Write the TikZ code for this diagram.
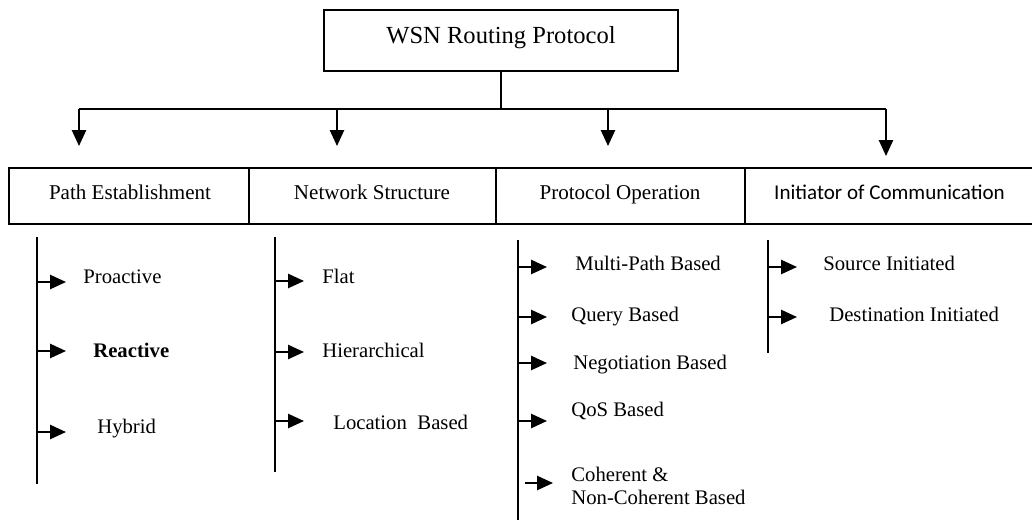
\documentclass[tikz,border=0pt]{standalone}
\usepackage{fontspec}
\setmainfont{Liberation Serif}
\newfontfamily\calib{Carlito}
\usetikzlibrary{arrows.meta}
\tikzset{
  line/.style={line width=1.1pt, line cap=butt},
  down/.style={line width=1.1pt, -{Triangle[length=9pt,width=8pt]}},
  side/.style={line width=1.1pt, -{Triangle[length=9pt,width=8pt]}},
  catbox/.style={draw, line width=1.1pt, minimum height=56*0.57pt, inner sep=0pt},
  lbl/.style={anchor=base, inner sep=0pt, font=\fontsize{12}{14}\selectfont},
  item/.style={anchor=base west, inner sep=0pt, font=\fontsize{11.8}{13.1}\selectfont, align=left},
}
\begin{document}
\begin{tikzpicture}[x=0.57pt, y=-0.57pt]
\useasboundingbox (0,0) rectangle (1032,519);
% root
\node[draw, line width=1.1pt, minimum width=354*0.57pt, minimum height=61*0.57pt, inner sep=0pt] (root) at (501,40.5) {};
\node[anchor=base, inner sep=0pt, font=\fontsize{14}{16}\selectfont] (rootlabel) at (501,43) {WSN Routing Protocol};
% bus
\coordinate (bus) at (root.south |- 0,109);
\coordinate (b1) at (79,109);
\coordinate (b2) at (337,109);
\coordinate (b3) at (608,109);
\coordinate (b4) at (886,109);
\coordinate (t1) at (79,146);
\coordinate (t2) at (337,146);
\coordinate (t3) at (608,146);
\coordinate (t4) at (886,156);
\draw[line] (root.south) -- (bus);
\draw[line] (b1) -- (b4);
\draw[down] (b1) -- (t1);
\draw[down] (b2) -- (t2);
\draw[down] (b3) -- (t3);
\draw[down] (b4) -- (t4);
% category boxes
\node[catbox, minimum width=240*0.57pt] (c1) at (129,196) {};
\node[catbox, minimum width=247*0.57pt] (c2) at (372.5,196) {};
\node[catbox, minimum width=249*0.57pt] (c3) at (620.5,196) {};
\node[catbox, minimum width=289*0.57pt] (c4) at (889.5,196) {};
\node[lbl] (c1l) at (130,199) {Path Establishment};
\node[lbl] (c2l) at (372,199) {Network Structure};
\node[lbl] (c3l) at (620,199) {Protocol Operation};
\node[lbl, font=\calib\fontsize{12}{14}\selectfont] (c4l) at (889.5,199) {Initiator of Communication};
% column lines
\coordinate (v1a) at (37,237); \coordinate (v1b) at (37,484);
\coordinate (v2a) at (275,237); \coordinate (v2b) at (275,472);
\coordinate (v3a) at (518,240); \coordinate (v3b) at (518,520);
\coordinate (v4a) at (768,240); \coordinate (v4b) at (768,353);
\draw[line] (v1a) -- (v1b);
\draw[line] (v2a) -- (v2b);
\draw[line] (v3a) -- (v3b);
\draw[line] (v4a) -- (v4b);
% column 1
\node[item] (p1) at (83,283) {Proactive};
\node[item, font=\bfseries\fontsize{11.8}{13.1}\selectfont] (p2) at (93,357) {Reactive};
\node[item] (p3) at (97,433) {Hybrid};
\draw[side] (37,282) coordinate (a11) -- (66,282) coordinate (e11);
\draw[side] (37,351) coordinate (a12) -- (66,351) coordinate (e12);
\draw[side] (37,432) coordinate (a13) -- (66,432) coordinate (e13);
% column 2
\node[item] (n1) at (322,283) {Flat};
\node[item] (n2) at (322,357) {Hierarchical};
\node[item] (n3) at (333,429) {Location\hspace{6pt}Based};
\draw[side] (275,281) coordinate (a21) -- (304,281) coordinate (e21);
\draw[side] (275,352) coordinate (a22) -- (304,352) coordinate (e22);
\draw[side] (275,421) coordinate (a23) -- (304,421) coordinate (e23);
% column 3
\node[item] (o1) at (575,270) {Multi-Path Based};
\node[item] (o2) at (571,321) {Query Based};
\node[item] (o3) at (573,369) {Negotiation Based};
\node[item] (o4) at (571,416) {QoS Based};
\node[item, anchor=north west] (o5) at (571,467) {Coherent \&\\Non-Coherent Based};
\draw[side] (518,267) coordinate (a31) -- (547,267) coordinate (e31);
\draw[side] (518,317) coordinate (a32) -- (547,317) coordinate (e32);
\draw[side] (518,363) coordinate (a33) -- (547,363) coordinate (e33);
\draw[side] (518,421) coordinate (a34) -- (547,421) coordinate (e34);
\draw[side] (525,483) coordinate (a35) -- (553,483) coordinate (e35);
% column 4
\node[item] (s1) at (823,270) {Source Initiated};
\node[item] (s2) at (829,321) {Destination Initiated};
\draw[side] (768,267) coordinate (a41) -- (797,267) coordinate (e41);
\draw[side] (768,317) coordinate (a42) -- (797,317) coordinate (e42);
\end{tikzpicture}
\end{document}
